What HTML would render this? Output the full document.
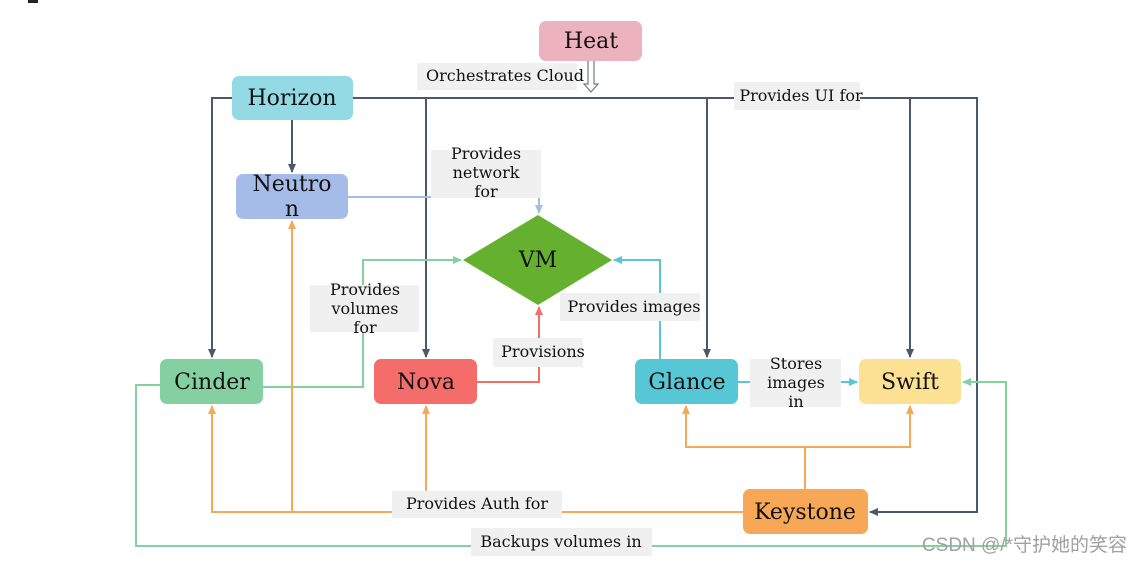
<!DOCTYPE html>
<html><head><meta charset="utf-8"><style>
html,body{margin:0;padding:0;background:#fff;width:1143px;height:563px;overflow:hidden}
svg text{font-family:"DejaVu Serif","Liberation Serif",serif;}
</style></head><body>
<svg width="1143" height="563" viewBox="0 0 1143 563" xmlns="http://www.w3.org/2000/svg">
<defs>
<marker id="ad" markerWidth="10" markerHeight="10" refX="8" refY="5" orient="auto" markerUnits="userSpaceOnUse"><path d="M0,1 L9,5 L0,9 Z" fill="#4a5a6a"/></marker>
<marker id="ao" markerWidth="10" markerHeight="10" refX="8" refY="5" orient="auto" markerUnits="userSpaceOnUse"><path d="M0,1 L9,5 L0,9 Z" fill="#f6a856"/></marker>
<marker id="ag" markerWidth="10" markerHeight="10" refX="8" refY="5" orient="auto" markerUnits="userSpaceOnUse"><path d="M0,1 L9,5 L0,9 Z" fill="#84d0a1"/></marker>
<marker id="ac" markerWidth="10" markerHeight="10" refX="8" refY="5" orient="auto" markerUnits="userSpaceOnUse"><path d="M0,1 L9,5 L0,9 Z" fill="#58c7d5"/></marker>
<marker id="ar" markerWidth="10" markerHeight="10" refX="8" refY="5" orient="auto" markerUnits="userSpaceOnUse"><path d="M0,1 L9,5 L0,9 Z" fill="#f56d6a"/></marker>
<marker id="ab" markerWidth="10" markerHeight="10" refX="8" refY="5" orient="auto" markerUnits="userSpaceOnUse"><path d="M0,1 L9,5 L0,9 Z" fill="#a6bce8"/></marker>
</defs>
<rect x="28" y="0" width="10" height="3" fill="#222"/>
<g fill="none" stroke-width="2">
<path d="M232,98 H212 V357" stroke="#4a5a6a" marker-end="url(#ad)"/>
<path d="M353,98 H977 V512 H870" stroke="#4a5a6a" marker-end="url(#ad)"/>
<path d="M426,98 V357" stroke="#4a5a6a" marker-end="url(#ad)"/>
<path d="M707,98 V357" stroke="#4a5a6a" marker-end="url(#ad)"/>
<path d="M910,98 V357" stroke="#4a5a6a" marker-end="url(#ad)"/>
<path d="M292,120 V172" stroke="#4a5a6a" marker-end="url(#ad)"/>
<path d="M348,197 H539 V213" stroke="#a6bce8" marker-end="url(#ab)"/>
<path d="M263,387 H363 V260 H461" stroke="#84d0a1" marker-end="url(#ag)"/>
<path d="M477,382 H539 V307" stroke="#f56d6a" marker-end="url(#ar)"/>
<path d="M660,359 V260 H614" stroke="#58c7d5" marker-end="url(#ac)"/>
<path d="M738,382 H857" stroke="#58c7d5" marker-end="url(#ac)"/>
<path d="M805,489 V447 H686 V406" stroke="#f6a856" marker-end="url(#ao)"/>
<path d="M805,447 H910 V406" stroke="#f6a856" marker-end="url(#ao)"/>
<path d="M743,512 H212 V406" stroke="#f6a856" marker-end="url(#ao)"/>
<path d="M292,512 V221" stroke="#f6a856" marker-end="url(#ao)"/>
<path d="M426,512 V406" stroke="#f6a856" marker-end="url(#ao)"/>
<path d="M160,385 H136 V546 H1006 V382 H963" stroke="#84d0a1" marker-end="url(#ag)"/>
</g>
<path d="M588,61 V84 H584 L591,92 L598,84 H594 V61" fill="#fff" stroke="#6a7a8a" stroke-width="1.2"/>
<rect x="539" y="21" width="103" height="40" rx="7" fill="#ecb2be"/>
<rect x="232" y="76" width="121" height="44" rx="7" fill="#93dae4"/>
<rect x="236" y="174" width="112" height="45" rx="7" fill="#a6bce8"/>
<polygon points="538,215 612,260 538,305 463,260" fill="#65b12f"/>
<rect x="160" y="359" width="103" height="45" rx="7" fill="#84d0a1"/>
<rect x="374" y="359" width="103" height="45" rx="7" fill="#f56d6a"/>
<rect x="635" y="359" width="103" height="45" rx="7" fill="#58c7d5"/>
<rect x="859" y="359" width="102" height="45" rx="7" fill="#fde193"/>
<rect x="743" y="489" width="125" height="45" rx="7" fill="#f6a856"/>
<g font-size="22" fill="#111" text-anchor="middle">
<text x="591" y="48">Heat</text>
<text x="292" y="105">Horizon</text>
<text x="292" y="191">Neutro</text>
<text x="292" y="216">n</text>
<text x="538" y="267">VM</text>
<text x="212" y="389">Cinder</text>
<text x="426" y="389">Nova</text>
<text x="687" y="389">Glance</text>
<text x="910" y="389">Swift</text>
<text x="805" y="519">Keystone</text>
</g>
<g fill="#f0f0f0">
<rect x="417" y="63" width="160" height="27"/>
<rect x="734" y="82" width="126" height="28"/>
<rect x="431" y="150" width="110" height="48"/>
<rect x="310" y="285" width="109" height="47"/>
<rect x="493" y="338" width="90" height="29"/>
<rect x="560" y="293" width="140" height="28"/>
<rect x="750" y="359" width="91" height="48"/>
<rect x="392" y="491" width="170" height="27"/>
<rect x="471" y="528" width="181" height="28"/>
</g>
<g font-size="16" fill="#111" text-anchor="middle">
<text x="505" y="81">Orchestrates Cloud</text>
<text x="801" y="101">Provides UI for</text>
<text x="486" y="159">Provides</text>
<text x="486" y="178">network</text>
<text x="486" y="197">for</text>
<text x="365" y="295">Provides</text>
<text x="365" y="314">volumes</text>
<text x="365" y="333">for</text>
<text x="543" y="357">Provisions</text>
<text x="634" y="312">Provides images</text>
<text x="796" y="369">Stores</text>
<text x="796" y="388">images</text>
<text x="796" y="407">in</text>
<text x="477" y="509">Provides Auth for</text>
<text x="561" y="547">Backups volumes in</text>
</g>
<text x="1127" y="551" text-anchor="end" font-size="19" fill="#a0a0a0" style="font-family:'Liberation Sans','Noto Sans CJK SC',sans-serif">CSDN @/*守护她的笑容</text>
</svg>
</body></html>
